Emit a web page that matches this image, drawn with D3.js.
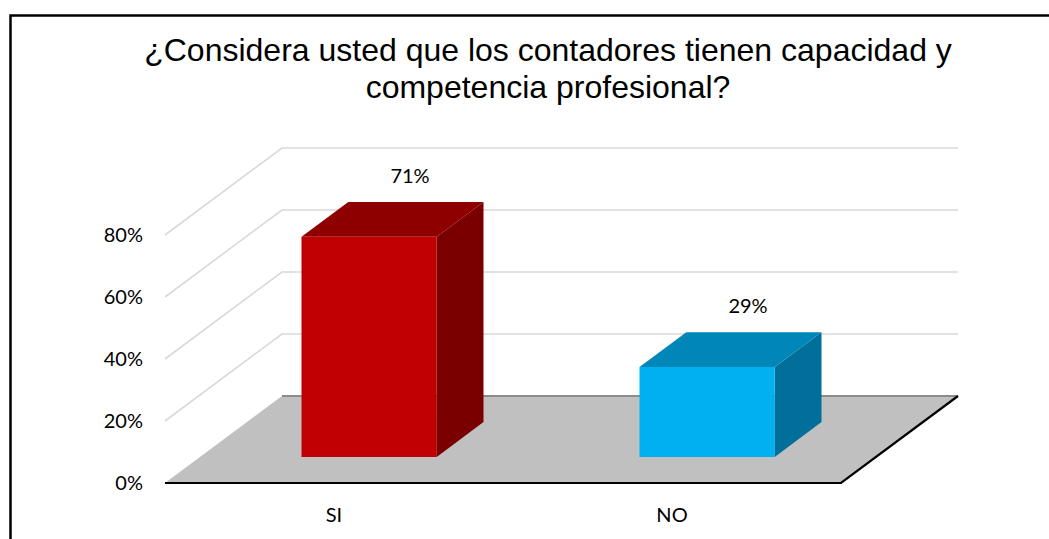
<!DOCTYPE html>
<html>
<head>
<meta charset="utf-8">
<script src="https://cdn.jsdelivr.net/npm/d3@7"></script>
<style>
  html, body { margin: 0; padding: 0; background: #fff; }
  svg { display: block; }
</style>
</head>
<body>
<svg id="chart" width="1049" height="539"></svg>
<script>
// ---- data ----
const titleLines = ["¿Considera usted que los contadores tienen capacidad y", "competencia profesional?"];
const categories = ["SI", "NO"];
const values = [0.71, 0.29];
const valueLabels = ["71%", "29%"];
const tickValues = [0, 0.2, 0.4, 0.6, 0.8];
const tickLabels = ["0%", "20%", "40%", "60%", "80%"];
const frontColors = ["#C00000", "#00B0F0"];
const topColors = ["#8E0000", "#0086B8"];
const sideColors = ["#7A0000", "#006F99"];

// ---- layout ----
const svg = d3.select("#chart");
const floorFront = 483;
const depthDX = 117, depthDY = -87;   // projection of the full depth
const barD0 = 0.3, barD1 = 0.7;

const x = d3.scaleBand().domain(categories).range([165, 841]).paddingInner(0).paddingOuter(0);
const y = d3.scaleLinear().domain([0, 0.8]).range([floorFront, 235]);
const barW = x.bandwidth() * 0.4;

function P(px, v, d) { return [px + d * depthDX, y(v) + d * depthDY]; }
const poly = pts => "M" + pts.map(p => p.join(",")).join("L") + "Z";

// frame
svg.append("path")
  .attr("d", `M10.5,539 L10.5,15.5 L1049,15.5`)
  .attr("fill", "none").attr("stroke", "#000").attr("stroke-width", 2.5);

// title
svg.append("g").selectAll("text").data(titleLines).join("text")
  .attr("x", 548).attr("y", (d, i) => 61 + i * 37)
  .attr("text-anchor", "middle")
  .attr("font-family", "'Liberation Sans', Arial, sans-serif")
  .attr("font-size", 32)
  .attr("fill", "#000")
  .text(d => d);

const x0 = x.range()[0], x1 = x.range()[1];

// gridlines (back wall + side wall)
const grid = svg.append("g");
tickValues.filter(t => t > 0).forEach(t => {
  const a = P(x0, t, 0), b = P(x0, t, 1), c = P(x1, t, 1);
  grid.append("path").attr("d", `M${a}L${b}L${c}`)
    .attr("fill", "none").attr("stroke", "#D9D9D9").attr("stroke-width", 1.6);
});

// floor
const fl = [P(x0, 0, 0), P(x1, 0, 0), P(x1, 0, 1), P(x0, 0, 1)];
svg.append("path").attr("d", poly(fl)).attr("fill", "#C0C0C0");
svg.append("path").attr("d", `M${fl[3]}L${fl[2]}`).attr("stroke", "#8C8C8C").attr("stroke-width", 2);
svg.append("path").attr("d", `M${fl[0]}L${fl[1]}L${fl[2]}`).attr("fill", "none")
  .attr("stroke", "#000").attr("stroke-width", 2.2);

// bars
const bars = svg.append("g");
categories.forEach((c, i) => {
  const v = values[i];
  const L = x(c) + (x.bandwidth() - barW) / 2, R = L + barW;
  const fBL = P(L, 0, barD0), fBR = P(R, 0, barD0), fTL = P(L, v, barD0), fTR = P(R, v, barD0);
  const bBR = P(R, 0, barD1), bTL = P(L, v, barD1), bTR = P(R, v, barD1);
  bars.append("path").attr("d", poly([fBR, fTR, bTR, bBR])).attr("fill", sideColors[i]);
  bars.append("path").attr("d", poly([fTL, fTR, bTR, bTL])).attr("fill", topColors[i]);
  bars.append("path").attr("d", poly([fBL, fBR, fTR, fTL])).attr("fill", frontColors[i]);
  // value label
  bars.append("text")
    .attr("x", (L + R) / 2 + 76).attr("y", bTR[1] - 19)
    .attr("text-anchor", "middle")
    .attr("font-family", "Lato, 'Open Sans', sans-serif")
    .attr("font-size", 20).attr("fill", "#000")
    .text(valueLabels[i]);
});

// y axis labels
const yAxis = d3.axisLeft(y).tickValues(tickValues)
  .tickFormat((d, i) => tickLabels[i]).tickSize(0).tickPadding(0);
const ya = svg.append("g").attr("transform", "translate(143,0)").call(yAxis);
ya.select(".domain").remove();
ya.selectAll("text").attr("font-family", "Lato, 'Open Sans', sans-serif")
  .attr("font-size", 20).attr("fill", "#000");

// category labels
svg.append("g").selectAll("text").data(categories).join("text")
  .attr("x", d => x(d) + x.bandwidth() / 2).attr("y", 522)
  .attr("text-anchor", "middle")
  .attr("font-family", "Lato, 'Open Sans', sans-serif")
  .attr("font-size", 20).attr("fill", "#000")
  .text(d => d);
</script>
</body>
</html>
